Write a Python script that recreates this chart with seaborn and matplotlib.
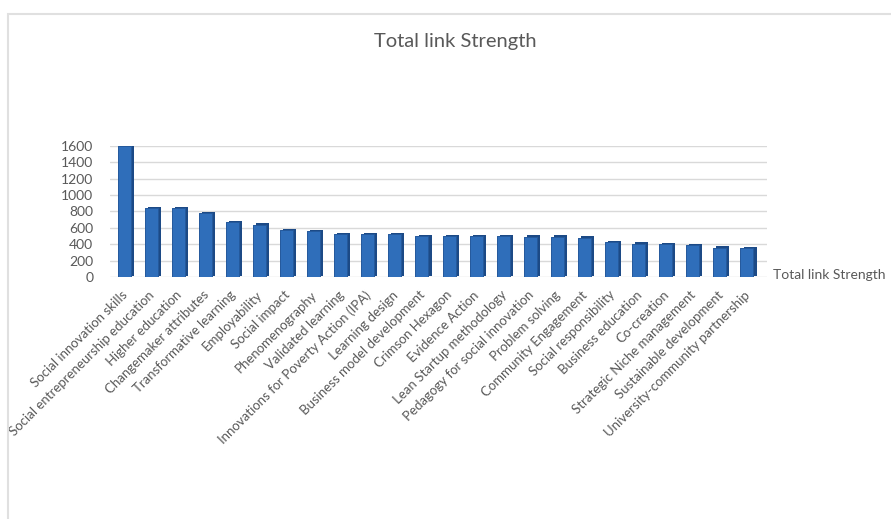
import matplotlib
matplotlib.use("Agg")
import matplotlib.pyplot as plt
import matplotlib.patheffects as pe
import matplotlib.transforms as mtransforms
from matplotlib.patches import Rectangle
import seaborn as sns
import pandas as pd

categories = [
    "Social innovation skills", "Social entrepreneurship education", "Higher education",
    "Changemaker attributes", "Transformative learning", "Employability", "Social impact",
    "Phenomenography", "Validated learning", "Innovations for Poverty Action (IPA)",
    "Learning design", "Business model development", "Crimson Hexagon", "Evidence Action",
    "Lean Startup methodology", "Pedagogy for social innovation", "Problem solving",
    "Community Engagement", "Social responsibility", "Business education", "Co-creation",
    "Strategic Niche management", "Sustainable development", "University-community partnership",
]
values = [1598, 847, 838, 786, 668, 640, 571, 559, 523, 523, 523, 502,
          502, 502, 502, 494, 494, 482, 425, 409, 397, 393, 360, 352]
y_ticks = [0, 200, 400, 600, 800, 1000, 1200, 1400, 1600]
series_name = "Total link Strength"

sns.set_theme(style="white")
plt.rcParams["font.family"] = ["Lato", "DejaVu Sans"]

W, H = 891, 519
fig = plt.figure(figsize=(W / 100, H / 100), dpi=100)
fig.patch.set_facecolor("white")

# light frame
fig.add_artist(Rectangle((8 / W, -0.01), 1.2, 1 - 14 / H + 0.01, transform=fig.transFigure,
                         fill=False, edgecolor="#e0e0e0", linewidth=1.5))

ax = fig.add_axes([110 / W, 1 - 277 / H, (767 - 110) / W, (277 - 146) / H])
df = pd.DataFrame({"cat": categories, "val": values})
sns.barplot(data=df, x="cat", y="val", ax=ax, color="#2F6EBA", width=0.48,
            saturation=1, edgecolor="#24589a", linewidth=0.6, zorder=3)
for p in ax.patches:
    p.set_path_effects([pe.withSimplePatchShadow(offset=(2.2, 0.8), shadow_rgbFace="#1c4a86", alpha=1.0),
                        pe.Normal()])

ax.set_xlim(-0.52, 23.74)
ax.set_ylim(0, 1600)
ax.set_yticks(y_ticks)
ax.set_yticklabels([str(t) for t in y_ticks], color="#595959", fontsize=10)
ax.yaxis.grid(True, color="#d9d9d9", linewidth=1.0, zorder=0)
ax.set_axisbelow(True)
for s in ax.spines.values():
    s.set_visible(False)
ax.tick_params(axis="y", length=0, pad=12)
ax.tick_params(axis="x", length=0, pad=2)
ax.set_xlabel("")
ax.set_ylabel("")
ax.set_xticks(range(len(categories)))
ax.set_xticklabels(categories, rotation=45, ha="right", rotation_mode="anchor",
                   color="#595959", fontsize=9.5)
offset = mtransforms.ScaledTranslation(-3 / 100, -9 / 100, fig.dpi_scale_trans)
for lbl in ax.get_xticklabels():
    lbl.set_transform(lbl.get_transform() + offset)
ax.set_facecolor("none")

fig.text(455 / W, 1 - 41 / H, series_name, ha="center", va="center",
         fontsize=14.5, color="#595959")
fig.text(773 / W, 1 - 275 / H, series_name, ha="left", va="center",
         fontsize=10, color="#595959")

fig.savefig("out.png", dpi=100, facecolor="white")
